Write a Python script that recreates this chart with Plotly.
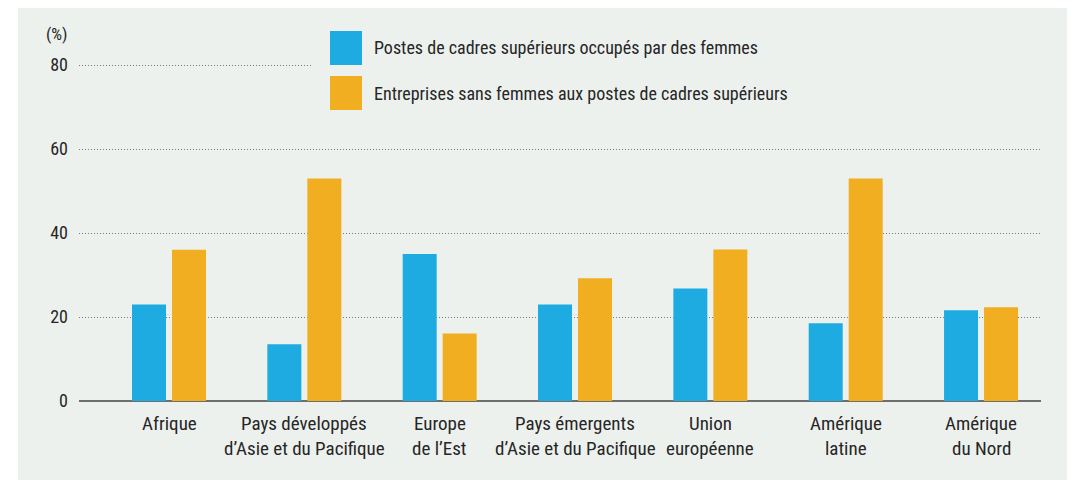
import plotly.graph_objects as go

categories = ["Afrique", "Pays développés<br>d’Asie et du Pacifique", "Europe<br>de l’Est",
              "Pays émergents<br>d’Asie et du Pacifique", "Union<br>européenne",
              "Amérique<br>latine", "Amérique<br>du Nord"]
femmes_cadres = [23.0, 13.5, 35.0, 23.0, 26.8, 18.5, 21.6]
sans_femmes = [36.0, 53.0, 16.1, 29.2, 36.1, 53.0, 22.3]
series_names = ["Postes de cadres supérieurs occupés par des femmes",
                "Entreprises sans femmes aux postes de cadres supérieurs"]
y_ticks = [0, 20, 40, 60, 80]

BLUE = "#1dabe2"
ORANGE = "#f0ae20"
PANEL = "#edf1ee"
TEXT = "#262626"
FONT = "Roboto Condensed, Roboto, sans-serif"

W, H = 1075, 480
OFF = 8  # page body margin
# plot area in page pixels: x 79..1041, y 61..401 (value 80 at y=65)
L, T = 79 - OFF, 61 - OFF
R, B = W - (1041 - OFF), H - (401 - OFF)
pw, ph = W - L - R, H - T - B

def px(x):  # page x -> paper
    return (x - OFF - L) / pw

def py(y):  # page y -> paper
    return (H - B - (y - OFF)) / ph

fig = go.Figure()
fig.add_trace(go.Bar(x=categories, y=femmes_cadres, name=series_names[0],
                     marker=dict(color=BLUE, line=dict(width=0)), showlegend=False))
fig.add_trace(go.Bar(x=categories, y=sans_femmes, name=series_names[1],
                     marker=dict(color=ORANGE, line=dict(width=0)), showlegend=False))

shapes = [
    dict(type="rect", xref="paper", yref="paper", layer="below",
         x0=px(18), x1=px(W + 20), y0=py(8), y1=py(H + 20),
         fillcolor=PANEL, line=dict(width=0)),
    # cover of the 80 gridline behind the legend
    dict(type="rect", xref="paper", yref="paper", layer="above",
         x0=px(311), x1=px(1045), y0=py(20), y1=py(115),
         fillcolor=PANEL, line=dict(width=0)),
    dict(type="rect", xref="paper", yref="paper", layer="above",
         x0=px(330), x1=px(362), y0=py(65), y1=py(31),
         fillcolor=BLUE, line=dict(width=0)),
    dict(type="rect", xref="paper", yref="paper", layer="above",
         x0=px(330), x1=px(362), y0=py(110), y1=py(76),
         fillcolor=ORANGE, line=dict(width=0)),
]

annotations = [
    dict(text="(%)", xref="paper", yref="paper", x=px(70), y=py(34),
         xanchor="right", yanchor="middle", showarrow=False,
         font=dict(size=17, color=TEXT, family=FONT)),
    dict(text=series_names[0], xref="paper", yref="paper", x=px(372), y=py(48),
         xanchor="left", yanchor="middle", showarrow=False,
         font=dict(size=18, color=TEXT, family=FONT)),
    dict(text=series_names[1], xref="paper", yref="paper", x=px(372), y=py(93),
         xanchor="left", yanchor="middle", showarrow=False,
         font=dict(size=18, color=TEXT, family=FONT)),
]
for i, cat in enumerate(categories):
    for j, line in enumerate(cat.split("<br>")):
        annotations.append(dict(text=line, xref="x", yref="paper", x=i, y=py(423 + 25.5 * j),
                                xanchor="center", yanchor="middle", showarrow=False,
                                font=dict(size=19, color=TEXT, family=FONT)))

fig.update_layout(
    width=W, height=H,
    margin=dict(l=L, r=R, t=T, b=B, pad=0),
    paper_bgcolor="white", plot_bgcolor="rgba(0,0,0,0)",
    barmode="group", bargap=0.409, bargroupgap=0.15,
    font=dict(family=FONT, color=TEXT, size=18),
    shapes=shapes, annotations=annotations,
    xaxis=dict(range=[-0.665, 6.443], showgrid=False, zeroline=False, automargin=False,
               showline=False, ticks="", showticklabels=False),
    yaxis=dict(range=[0, 80 * 340 / 336], tickvals=y_ticks, showgrid=True, gridcolor="#7a7a7a",
               gridwidth=1, griddash="1px,2px", zeroline=True, zerolinecolor="#6e6e6e",
               zerolinewidth=2, showline=False, ticks="", ticklabelstandoff=10, automargin=False,
               tickfont=dict(size=18, color=TEXT, family=FONT)),
)

fig.write_html("out.html")
